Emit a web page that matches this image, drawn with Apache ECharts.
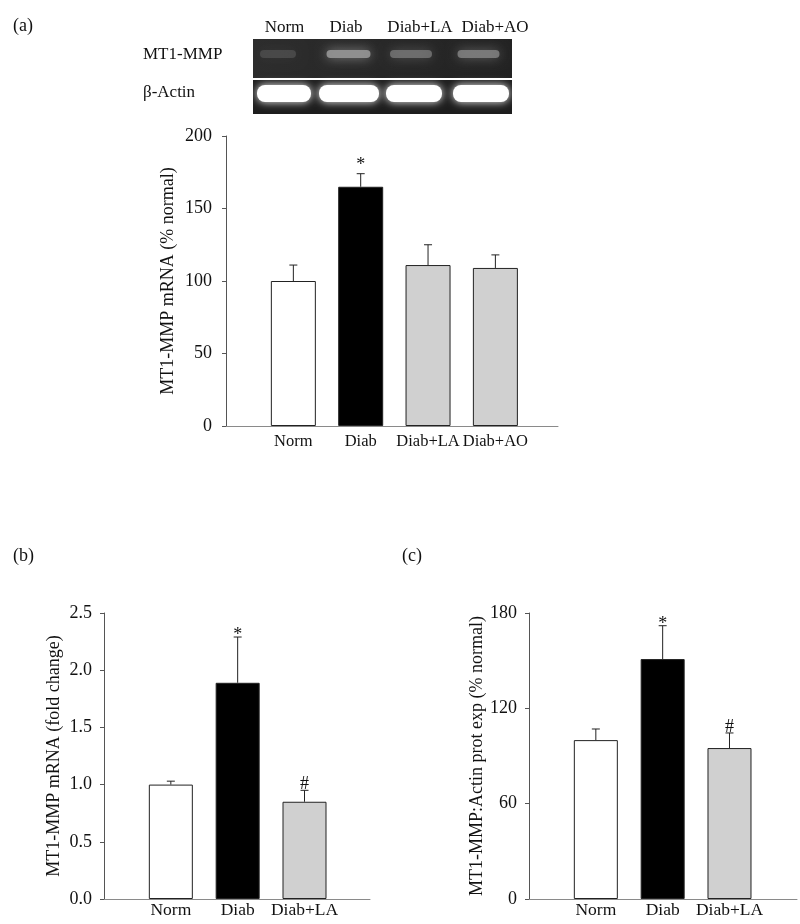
<!DOCTYPE html>
<html>
<head>
<meta charset="utf-8">
<script src="https://cdn.jsdelivr.net/npm/echarts@6/dist/echarts.min.js"></script>
<style>html,body{margin:0;padding:0;background:#fff;}#c{width:800px;height:924px;}</style>
</head>
<body>
<div id="c"></div>
<script>
// ---- data ----
const catsA = ['Norm', 'Diab', 'Diab+LA', 'Diab+AO'];
const valsA = [100, 165, 111, 109];
const errA = [11, 9, 14, 9];
const marksA = ['', '*', '', ''];

const catsB = ['Norm', 'Diab', 'Diab+LA'];
const valsB = [1.00, 1.89, 0.85];
const errB = [0.03, 0.40, 0.10];
const marksB = ['', '*', '#'];

const catsC = ['Norm', 'Diab', 'Diab+LA'];
const valsC = [100, 151, 95];
const errC = [7, 21, 9.5];
const marksC = ['', '*', '#'];

const gelLanes = ['Norm', 'Diab', 'Diab+LA', 'Diab+AO'];
const gelRows = ['MT1-MMP', 'β-Actin'];

// ---- styles ----
const FONT = 'Liberation Serif';
const barColors = ['#ffffff', '#000000', '#d0d0d0', '#d0d0d0'];

const chart = echarts.init(document.getElementById('c'), null, {renderer: 'canvas'});

function xAxisFor(idx, min, max) {
  return {
    type: 'value', gridIndex: idx, min: min, max: max,
    axisLine: {show: true, lineStyle: {color: '#8a8a8a', width: 1}},
    axisTick: {show: false},
    splitLine: {show: false},
    axisLabel: {show: false}
  };
}
function yAxisFor(idx, name, max, interval, gap, fmt) {
  return {
    type: 'value', gridIndex: idx, min: 0, max: max, interval: interval,
    name: name, nameLocation: 'middle', nameRotate: 90, nameGap: gap,
    nameTextStyle: {fontFamily: FONT, fontSize: 18, color: '#111'},
    axisLine: {show: true, lineStyle: {color: '#555', width: 1}},
    axisTick: {show: true, inside: false, length: 4, lineStyle: {color: '#555'}},
    splitLine: {show: false},
    axisLabel: {fontFamily: FONT, fontSize: 18, color: '#111', margin: 12, formatter: fmt}
  };
}
function barSeries(idx, vals, width) {
  return {
    type: 'bar', xAxisIndex: idx, yAxisIndex: idx, barWidth: width,
    data: vals.map((v, i) => ({value: [i + 1, v], itemStyle: {color: barColors[i]}})),
    itemStyle: {borderColor: '#222', borderWidth: 1},
    animation: false, silent: true
  };
}
// error bars, significance marks and category labels, placed through the axes' scales
function errSeries(idx, vals, errs, marks, cats, gap, labelOffset, labelSize) {
  return {
    type: 'custom', xAxisIndex: idx, yAxisIndex: idx, animation: false, silent: true, clip: false,
    data: vals.map((v, i) => [i + 1, v, errs[i]]),
    renderItem: function (params, api) {
      const x = api.value(0), v = api.value(1), e = api.value(2);
      const p0 = api.coord([x, v]);
      const p1 = api.coord([x, v + e]);
      const pb = api.coord([x, 0]);
      const children = [
        {type: 'line', shape: {x1: p0[0], y1: p0[1], x2: p1[0], y2: p1[1]}, style: {stroke: '#222', lineWidth: 1}},
        {type: 'line', shape: {x1: p1[0] - 4, y1: p1[1], x2: p1[0] + 4, y2: p1[1]}, style: {stroke: '#222', lineWidth: 1}},
        {type: 'text', style: {text: cats[params.dataIndex], x: pb[0], y: pb[1] + labelOffset, align: 'center', verticalAlign: 'middle',
          font: labelSize + 'px "' + FONT + '"', fill: '#111'}}
      ];
      const m = marks[params.dataIndex];
      if (m) {
        const off = m === '*' ? 8.5 : 4;
        children.push({type: 'text', style: {text: m, x: p1[0], y: p1[1] - gap + off, align: 'center', verticalAlign: 'bottom',
          font: '18px "' + FONT + '"', fill: '#111'}});
      }
      return {type: 'group', children: children};
    }
  };
}

// gel decoration
const mtBandX = [278, 348.5, 411, 478.5];
const mtBandW = [36, 44, 42, 42];
const mtBandC = ['rgba(120,120,120,0.35)', 'rgba(150,150,150,0.9)', 'rgba(130,130,130,0.7)', 'rgba(135,135,135,0.8)'];
const acBandX = [284, 349, 414, 481];
const acBandW = [54, 60, 56, 56];
const laneLabelX = [284.5, 346, 420, 495];
const graphic = [];
graphic.push({type: 'rect', shape: {x: 253, y: 39, width: 259, height: 39},
  style: {fill: new echarts.graphic.LinearGradient(0, 0, 1, 0, [{offset: 0, color: '#2c2c2c'}, {offset: 1, color: '#222'}])}, z: 1});
graphic.push({type: 'rect', shape: {x: 253, y: 80, width: 259, height: 34}, style: {fill: '#1d1d1d'}, z: 1});
gelLanes.forEach((l, i) => {
  graphic.push({type: 'text', style: {text: l, x: laneLabelX[i], y: 28, align: 'center', verticalAlign: 'middle', font: '17px "' + FONT + '"', fill: '#111'}, z: 3});
  graphic.push({type: 'rect', shape: {x: mtBandX[i] - mtBandW[i] / 2, y: 50, width: mtBandW[i], height: 8, r: 4},
    style: {fill: mtBandC[i], shadowBlur: 12, shadowColor: mtBandC[i]}, z: 2});
  graphic.push({type: 'rect', shape: {x: acBandX[i] - acBandW[i] / 2, y: 85, width: acBandW[i], height: 17, r: 8},
    style: {fill: '#ffffff', shadowBlur: 8, shadowColor: 'rgba(255,255,255,0.95)'}, z: 2});
});
graphic.push({type: 'text', style: {text: gelRows[0], x: 143, y: 55, align: 'left', verticalAlign: 'middle', font: '17px "' + FONT + '"', fill: '#111'}, z: 3});
graphic.push({type: 'text', style: {text: gelRows[1], x: 143, y: 93, align: 'left', verticalAlign: 'middle', font: '17px "' + FONT + '"', fill: '#111'}, z: 3});
[['(a)', 13, 26], ['(b)', 13, 556], ['(c)', 402, 556]].forEach(t => {
  graphic.push({type: 'text', style: {text: t[0], x: t[1], y: t[2], align: 'left', verticalAlign: 'middle', font: '18px "' + FONT + '"', fill: '#111'}, z: 3});
});

const option = {
  animation: false,
  backgroundColor: '#ffffff',
  graphic: graphic,
  grid: [
    {left: 224, top: 136, width: 334, height: 290},
    {left: 104, top: 613, width: 266, height: 286},
    {left: 529, top: 613, width: 268, height: 286}
  ],
  xAxis: [
    xAxisFor(0, -0.03, 4.93),
    xAxisFor(1, 0, 3.98),
    xAxisFor(2, 0, 4.01)
  ],
  yAxis: [
    yAxisFor(0, 'MT1-MMP mRNA (% normal)', 200, 50, 47),
    yAxisFor(1, 'MT1-MMP mRNA (fold change)', 2.5, 0.5, 41, v => v.toFixed(1)),
    yAxisFor(2, 'MT1-MMP:Actin prot exp (% normal)', 180, 60, 42)
  ],
  series: [
    barSeries(0, valsA, 45), errSeries(0, valsA, errA, marksA, catsA, 8, 15.5, 16.5),
    barSeries(1, valsB, 44), errSeries(1, valsB, errB, marksB, catsB, 1, 11, 17.5),
    barSeries(2, valsC, 44), errSeries(2, valsC, errC, marksC, catsC, 1, 11, 17.5)
  ]
};
chart.setOption(option);
</script>
</body>
</html>
